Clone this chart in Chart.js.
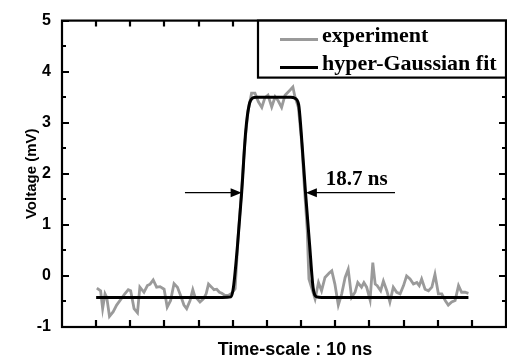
<!DOCTYPE html>
<html>
<head>
<meta charset="utf-8">
<script src="https://cdn.jsdelivr.net/npm/chart.js@4.4.1/dist/chart.umd.min.js"></script>
<style>
  html, body { margin: 0; padding: 0; background: #fff; }
  #wrap { width: 507px; height: 360px; }
</style>
</head>
<body>
<div id="wrap"><canvas id="pulse" width="507" height="360"></canvas></div>
<script>
// ── Data (time in ns, voltage in mV) ───────────────────────────────────────────
const expTime = [10.2, 11.3, 11.9, 12.6, 13.1, 13.9, 15.0, 16.0, 17.0, 18.4, 19.4, 20.1, 21.1, 22.1, 22.8,
  24.0, 25.0, 25.8, 26.7, 27.7, 28.7, 29.9, 30.8, 31.8, 32.8, 33.8, 34.7, 35.7, 36.5, 37.5, 38.3,
  38.9, 39.6, 40.4, 41.4, 42.2, 42.9, 43.8, 44.5, 45.3, 46.1, 46.8, 47.7, 48.7, 49.7,
  50.7, 51.6, 52.5, 53.4, 54.4, 55.5, 56.5, 57.5, 58.5, 59.4, 60.3, 61.4, 62.4, 63.3, 64.3, 65.3,
  66.8, 67.6, 68.2, 69.2, 70.2, 71.0, 71.8, 72.1, 72.3, 74.1,
  75.1, 76.0, 77.0, 78.3, 79.0, 79.9, 80.9, 81.9, 82.9, 83.8, 84.8, 85.8, 86.6, 87.7, 88.4, 89.2,
  90.2, 91.0, 91.7, 92.3, 93.3, 94.1, 95.1, 96.0, 97.0, 98.0, 99.0, 100.0, 100.9, 101.9, 102.9,
  103.9, 104.6, 105.3, 106.3, 107.3, 108.3, 109.2, 110.2, 111.2, 112.2, 113.1, 114.1, 115.1,
  116.1, 117.0, 118.0, 119.0];
const expVolt = [-0.24, -0.29, -0.64, -0.35, -0.42, -0.79, -0.70, -0.57, -0.48, -0.35, -0.27, -0.29, -0.64, -0.72, -0.22,
  -0.32, -0.19, -0.16, -0.08, -0.22, -0.21, -0.26, -0.61, -0.48, -0.15, -0.22, -0.38, -0.57, -0.64, -0.48, -0.27,
  -0.40, -0.45, -0.51, -0.45, -0.35, -0.16, -0.22, -0.27, -0.26, -0.32, -0.34, -0.38, -0.38, -0.34,
  -0.25, 0.80, 1.60, 2.50, 3.20, 3.58, 3.58, 3.41, 3.30, 3.49, 3.54, 3.31, 3.51, 3.43, 3.30, 3.54,
  3.64, 3.70, 3.51, 3.30, 2.60, 1.70, 0.90, 0.30, -0.06, -0.45,
  -0.13, -0.29, -0.03, 0.06, 0.10, -0.16, -0.57, -0.35, -0.03, 0.13, -0.42, -0.32, -0.13, -0.22, -0.13, -0.22,
  -0.47, 0.26, -0.16, -0.19, -0.29, -0.10, -0.29, -0.51, -0.22, -0.32, -0.35, -0.19, 0.00, -0.06, -0.16,
  -0.13, -0.19, -0.06, -0.26, -0.29, -0.22, 0.03, -0.35, -0.35, -0.48, -0.57, -0.51, -0.48,
  -0.19, -0.32, -0.32, -0.34];

const fitTime = [10, 47, 49.5, 50.2, 51.4, 52.6, 53.8, 54.8, 56.0, 57.0,
  67.0, 68.2, 69.3, 70.0, 71.3, 72.5, 73.5, 74.6, 76.0, 119];
const fitVolt = [-0.42, -0.42, -0.41, -0.22, 0.61, 1.63, 2.84, 3.35, 3.49, 3.50,
  3.50, 3.48, 3.35, 2.84, 1.63, 0.61, -0.22, -0.41, -0.42, -0.42];

const seriesLabels = ['experiment', 'hyper-Gaussian fit'];
const yTicks = [-1, 0, 1, 2, 3, 4, 5];
const xTickStep = 10;          // one division = 10 ns
const xTitle = 'Time-scale : 10 ns';
const fwhmText = '18.7 ns';
const arrowV = 1.63;           // height of the width arrows
const leftArrow = [36, 52.6];  // from, tip (ns)
const rightArrow = [97.5, 71.4];

// ── Theme ──────────────────────────────────────────────────────────────────────
const C = {
  grey:  '#9a9a9a',
  black: '#000',
  sans:  "'Liberation Sans', Arial, sans-serif",
  serif: "'Liberation Serif', 'Times New Roman', serif"
};

const toXY = (xs, ys) => xs.map((x, i) => ({ x, y: ys[i] }));

// frame, inward ticks, x title, legend box and the width annotation
const decor = {
  id: 'decor',
  afterDraw(chart) {
    const { ctx, chartArea: a, scales: { x, y } } = chart;
    ctx.save();
    ctx.strokeStyle = C.black;
    ctx.lineWidth = 2.2;

    // inward ticks
    ctx.beginPath();
    for (let v = -1; v <= 5.001; v += 0.5) {
      const py = Math.round(y.getPixelForValue(v));
      const len = Number.isInteger(v) ? 7 : 4;
      ctx.moveTo(a.left, py); ctx.lineTo(a.left + len, py);
      ctx.moveTo(a.right, py); ctx.lineTo(a.right - len, py);
    }
    for (let t = x.min + xTickStep; t < x.max; t += xTickStep) {
      const px = Math.round(x.getPixelForValue(t));
      ctx.moveTo(px, a.bottom); ctx.lineTo(px, a.bottom - 7);
      ctx.moveTo(px, a.top); ctx.lineTo(px, a.top + 6);
    }
    ctx.stroke();
    ctx.strokeRect(a.left, a.top, a.right - a.left, a.bottom - a.top);

    // x title (sits a little right of centre in the original)
    ctx.fillStyle = C.black;
    ctx.font = "bold 18px " + C.sans;
    ctx.textAlign = 'center';
    ctx.textBaseline = 'middle';
    ctx.fillText(xTitle, (a.left + a.right) / 2 + 11, a.bottom + 23);

    // legend
    const bx = a.right - 248, by = a.top, bw = 248, bh = 57;
    ctx.fillStyle = '#fff';
    ctx.fillRect(bx, by, bw, bh);
    ctx.strokeRect(bx, by, bw, bh);
    ctx.font = "bold 22px " + C.serif;
    ctx.textAlign = 'left';
    chart.data.datasets.forEach((ds, i) => {
      const ly = by + 16 + i * 28;
      ctx.strokeStyle = ds.borderColor;
      ctx.lineWidth = 3;
      ctx.beginPath();
      ctx.moveTo(bx + 22, ly + 3); ctx.lineTo(bx + 60, ly + 3);
      ctx.stroke();
      ctx.fillStyle = C.black;
      ctx.fillText(ds.label, bx + 64, ly);
    });

    // width arrows
    const ay = y.getPixelForValue(arrowV);
    const arrow = (from, tip) => {
      const x0 = x.getPixelForValue(from), x1 = x.getPixelForValue(tip);
      const dir = Math.sign(x1 - x0);
      ctx.strokeStyle = C.black;
      ctx.lineWidth = 1.3;
      ctx.beginPath();
      ctx.moveTo(x0, ay); ctx.lineTo(x1 - dir * 8, ay);
      ctx.stroke();
      ctx.fillStyle = C.black;
      ctx.beginPath();
      ctx.moveTo(x1, ay);
      ctx.lineTo(x1 - dir * 11, ay - 4.5);
      ctx.lineTo(x1 - dir * 11, ay + 4.5);
      ctx.closePath();
      ctx.fill();
    };
    arrow(leftArrow[0], leftArrow[1]);
    arrow(rightArrow[0], rightArrow[1]);
    ctx.font = "bold 21px " + C.serif;
    ctx.textBaseline = 'alphabetic';
    ctx.fillText(fwhmText, x.getPixelForValue(rightArrow[1]) + 20, ay - 8);
    ctx.restore();
  }
};

new Chart(document.getElementById('pulse'), {
  type: 'line',
  data: {
    datasets: [
      {
        label: seriesLabels[0],
        data: toXY(expTime, expVolt),
        borderColor: C.grey,
        borderWidth: 2.8,
        pointRadius: 0,
        tension: 0,
        order: 2
      },
      {
        label: seriesLabels[1],
        data: toXY(fitTime, fitVolt),
        borderColor: C.black,
        borderWidth: 3,
        pointRadius: 0,
        cubicInterpolationMode: 'monotone',
        order: 1
      }
    ]
  },
  options: {
    responsive: false,
    animation: false,
    devicePixelRatio: 1,
    layout: { padding: { top: 13, right: 1, left: 0, bottom: 0 } },
    plugins: { legend: { display: false }, tooltip: { enabled: false } },
    scales: {
      x: {
        type: 'linear', min: 0, max: 130,
        grid: { display: false }, border: { display: false },
        ticks: { display: false, stepSize: xTickStep },
        afterFit(s) { s.height = 33; }
      },
      y: {
        min: -1, max: 5,
        grid: { display: false, drawTicks: false }, border: { display: false },
        afterBuildTicks(s) { s.ticks = yTicks.map(v => ({ value: v })); },
        ticks: {
          color: C.black, padding: 11,
          font: { family: C.sans, size: 16, weight: 'bold' }
        },
        title: {
          display: true, text: 'Voltage (mV)', color: C.black,
          font: { family: C.sans, size: 15, weight: 'bold' },
          padding: { top: 23, bottom: 0 }
        },
        afterFit(s) { s.width = 62; }
      }
    }
  },
  plugins: [decor]
});
</script>
</body>
</html>
